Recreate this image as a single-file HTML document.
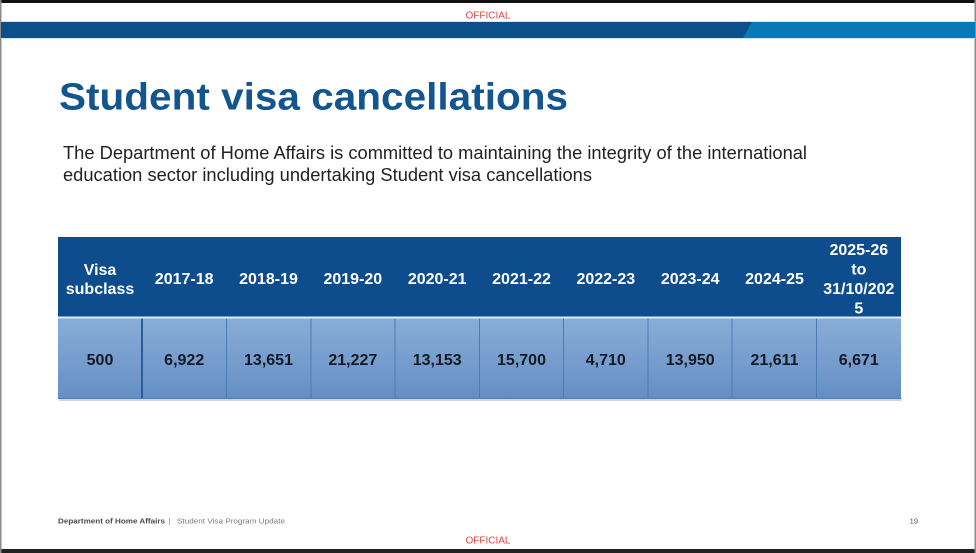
<!DOCTYPE html>
<html>
<head>
<meta charset="utf-8">
<style>
html,body{margin:0;padding:0;background:#fff;}
svg{display:block;}
text{font-family:"Liberation Sans",Arial,sans-serif;}
</style>
</head>
<body>
<svg width="976" height="553" viewBox="0 0 976 553" xmlns="http://www.w3.org/2000/svg">
<defs>
<linearGradient id="cell" x1="0" y1="0" x2="0" y2="1">
<stop offset="0" stop-color="#8aaed8"/>
<stop offset="1" stop-color="#648ec4"/>
</linearGradient>
</defs>
<rect x="0" y="0" width="976" height="553" fill="#ffffff"/>
<!-- frame -->
<rect x="0" y="0" width="976" height="3" fill="#111"/>
<rect x="0" y="549" width="976" height="4" fill="#222"/>
<rect x="0" y="0" width="1.5" height="553" fill="#8a8a8a"/>
<rect x="974.5" y="0" width="1.5" height="553" fill="#8a8a8a"/>

<!-- top official -->
<text x="488" y="18.5" font-size="10" fill="#e0463f" text-anchor="middle">OFFICIAL</text>

<!-- blue band -->
<rect x="1" y="21" width="974" height="18" fill="#cfe6f5"/>
<rect x="1" y="22" width="974" height="16" fill="#0c4f8b"/>
<polygon points="752,22 975,22 975,38 743,38" fill="#0a79b3"/>

<!-- title -->
<text x="59" y="109.5" font-size="38" font-weight="bold" fill="#13558f" textLength="509" lengthAdjust="spacingAndGlyphs">Student visa cancellations</text>

<!-- body text -->
<text x="63" y="159" font-size="18.5" fill="#222" textLength="744" lengthAdjust="spacingAndGlyphs">The Department of Home Affairs is committed to maintaining the integrity of the international</text>
<text x="63" y="181" font-size="18.5" fill="#222" textLength="529" lengthAdjust="spacingAndGlyphs">education sector including undertaking Student visa cancellations</text>

<!-- table shadow -->
<rect x="59" y="398" width="843" height="3" fill="#d4d4d4"/>
<!-- header -->
<rect x="58" y="237" width="843" height="80" fill="#0e4d8d"/>
<!-- body -->
<rect x="58" y="317" width="843" height="82" fill="url(#cell)"/>
<rect x="58" y="316.5" width="843" height="2" fill="#dce9f6"/>
<!-- column lines -->
<rect x="141" y="318.5" width="2" height="80.5" fill="#2c5c97"/>
<g fill="#4d7cb4">
<rect x="226" y="318.5" width="1" height="80.5"/>
<rect x="310.5" y="318.5" width="1" height="80.5"/>
<rect x="394.5" y="318.5" width="1" height="80.5"/>
<rect x="479" y="318.5" width="1" height="80.5"/>
<rect x="563" y="318.5" width="1" height="80.5"/>
<rect x="647.5" y="318.5" width="1" height="80.5"/>
<rect x="731.5" y="318.5" width="1" height="80.5"/>
<rect x="816" y="318.5" width="1" height="80.5"/>
</g>
<rect x="58" y="398" width="843" height="1" fill="#4f7cb2"/>

<!-- header text -->
<g font-size="16" font-weight="bold" fill="#ffffff" text-anchor="middle">
<text x="100" y="275">Visa</text>
<text x="100" y="294">subclass</text>
<text x="184.2" y="284">2017-18</text>
<text x="268.5" y="284">2018-19</text>
<text x="352.8" y="284">2019-20</text>
<text x="437.2" y="284">2020-21</text>
<text x="521.5" y="284">2021-22</text>
<text x="605.8" y="284">2022-23</text>
<text x="690.2" y="284">2023-24</text>
<text x="774.5" y="284">2024-25</text>
<text x="858.8" y="255">2025-26</text>
<text x="858.8" y="274.5">to</text>
<text x="858.8" y="294">31/10/202</text>
<text x="858.8" y="313.5">5</text>
</g>

<!-- body numbers -->
<g font-size="16" font-weight="bold" fill="#141a24" text-anchor="middle">
<text x="100" y="365">500</text>
<text x="184.2" y="365">6,922</text>
<text x="268.5" y="365">13,651</text>
<text x="352.8" y="365">21,227</text>
<text x="437.2" y="365">13,153</text>
<text x="521.5" y="365">15,700</text>
<text x="605.8" y="365">4,710</text>
<text x="690.2" y="365">13,950</text>
<text x="774.5" y="365">21,611</text>
<text x="858.8" y="365">6,671</text>
</g>

<!-- footer -->
<text x="58" y="523.5" font-size="7.5" font-weight="bold" fill="#4a4a4a" textLength="107" lengthAdjust="spacingAndGlyphs">Department of Home Affairs</text>
<text x="168.5" y="523.5" font-size="7.5" fill="#777">|</text>
<text x="177" y="523.5" font-size="7.5" fill="#7a7a7a" textLength="108" lengthAdjust="spacingAndGlyphs">Student Visa Program Update</text>
<text x="918" y="523.5" font-size="7.5" fill="#555" text-anchor="end">19</text>

<!-- bottom official -->
<text x="488" y="543.5" font-size="10" fill="#e0463f" text-anchor="middle">OFFICIAL</text>
</svg>
</body>
</html>
